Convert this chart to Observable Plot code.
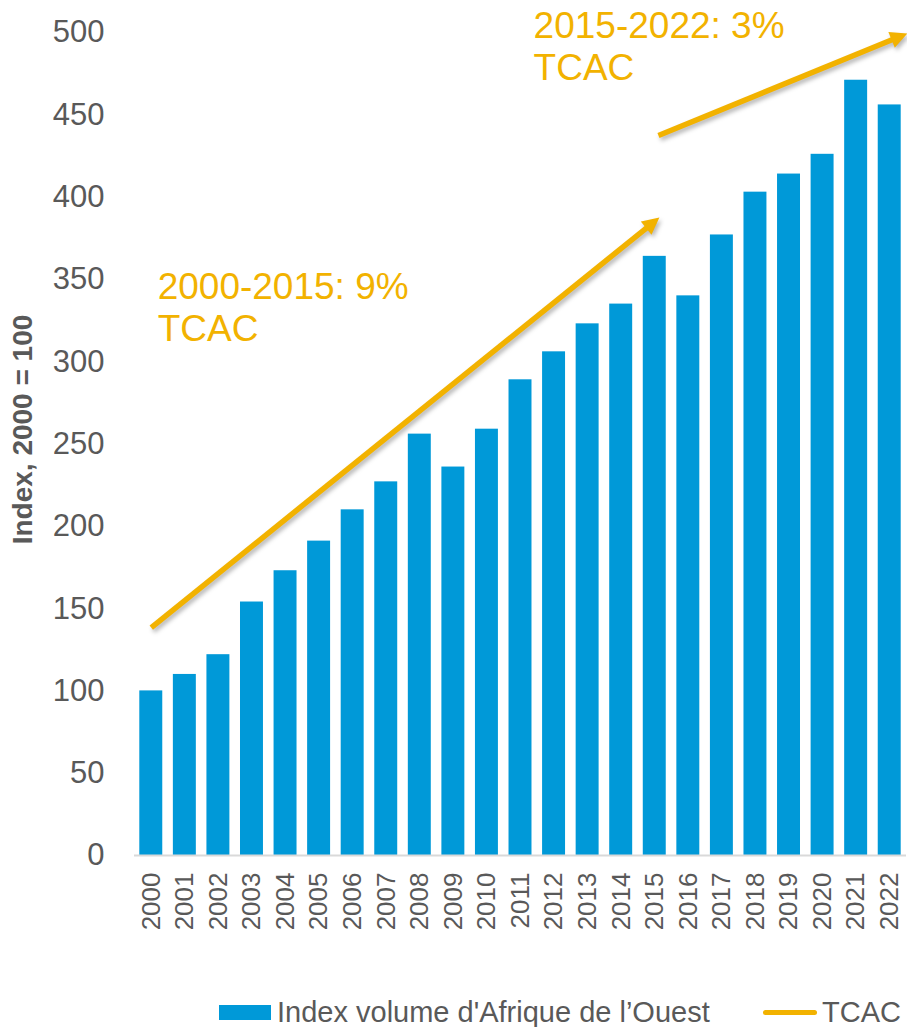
<!DOCTYPE html>
<html>
<head>
<meta charset="utf-8">
<script src="https://cdn.jsdelivr.net/npm/d3@7"></script>
<script src="https://cdn.jsdelivr.net/npm/@observablehq/plot@0.6"></script>
<style>
  html, body { margin: 0; padding: 0; background: #fff; }
  body { width: 907px; height: 1027px; overflow: hidden; font-family: "Liberation Sans", Arial, sans-serif; }
  #legend { position: relative; width: 907px; height: 32px; color: #595959; font-size: 29px; }
  #legend .sw { position: absolute; }
  #legend .lb { position: absolute; top: 1px; line-height: 32px; white-space: nowrap; }
</style>
</head>
<body>
<div id="chart"></div>
<div id="legend">
  <div class="sw" style="left:219px; top:10px; width:52px; height:15px; background:#0099D8;"></div>
  <div class="lb" style="left:277px;">Index volume d'Afrique de l’Ouest</div>
  <div class="sw" style="left:763px; top:15px; width:54px; height:5px; background:#F2B200; border-radius:3px;"></div>
  <div class="lb" style="left:822px;">TCAC</div>
</div>
<script>
// ---- data ----
const years = [2000, 2001, 2002, 2003, 2004, 2005, 2006, 2007, 2008, 2009, 2010, 2011,
               2012, 2013, 2014, 2015, 2016, 2017, 2018, 2019, 2020, 2021, 2022];
const values = [100, 110, 122, 154, 173, 191, 210, 227, 256, 236, 259, 289,
                306, 323, 335, 364, 340, 377, 403, 414, 426, 471, 456];
const yTicks = [0, 50, 100, 150, 200, 250, 300, 350, 400, 450, 500];
const yLabel = "Index, 2000 = 100";
const yLabelPos = {x: 1996.19, y: 258.8};

// CAGR annotations (arrows + labels)
const arrowX1 = [2000.0, 2015.11];
const arrowY1 = [138.5, 437.4];
const arrowX2 = [2015.0, 2022.36];
const arrowY2 = [385.3, 498.0];
const annoText = ["2000-2015: 9%\nTCAC", "2015-2022: 3%\nTCAC"];
const annoX = [2000.19, 2011.39];
const annoY = [356.5, 515];

const BLUE = "#0099D8";
const ORANGE = "#F2B200";
const GREY = "#595959";

const bars = years.map((year, i) => ({year, value: values[i]}));
const arrows = arrowX1.map((x1, i) => ({x1, y1: arrowY1[i], x2: arrowX2[i], y2: arrowY2[i]}));
const annos = annoText.map((text, i) => ({text, x: annoX[i], y: annoY[i]}));

const W = 907, H = 995;
const plot = Plot.plot({
  width: W,
  height: H,
  marginLeft: 134,
  marginRight: 1,
  marginTop: 32,
  marginBottom: H - 855,
  style: {fontFamily: "'Liberation Sans', Arial, sans-serif", color: GREY, background: "white", overflow: "visible"},
  x: {type: "linear", domain: [1999.5, 2022.5], axis: null},
  y: {domain: [0, 500], axis: null},
  marks: [
    Plot.rectY(bars, {x1: d => d.year - 0.5, x2: d => d.year + 0.5, y: "value",
                      fill: BLUE, insetLeft: 5.3, insetRight: 5.3}),
    Plot.ruleY([0], {stroke: "#D9D9D9", strokeWidth: 2}),
    Plot.axisY({ticks: yTicks, tickSize: 0, tickPadding: 30, fontSize: 31, tickFormat: d => String(d)}),
    Plot.axisX({ticks: years, tickFormat: d => String(d), tickRotate: -90, tickSize: 0, tickPadding: 17, fontSize: 26}),
    Plot.text([yLabelPos], {x: "x", y: "y", text: () => yLabel, rotate: -90,
                            fontSize: 28, fontWeight: "bold", fill: GREY}),
    Plot.link(arrows, {x1: "x1", y1: "y1", x2: "x2", y2: "y2", stroke: ORANGE, strokeWidth: 5.5}),
    Plot.text(annos, {x: "x", y: "y", text: "text", textAnchor: "start", lineAnchor: "top",
                      lineHeight: 1.14, fontSize: 37, fill: ORANGE})
  ]
});

// add filled arrowheads and a soft shadow to the arrows
const svg = d3.select(plot);
const defs = svg.insert("defs", ":first-child");
defs.append("marker")
  .attr("id", "ahead")
  .attr("viewBox", "0 0 10 10")
  .attr("refX", 6.5)
  .attr("refY", 5)
  .attr("markerUnits", "userSpaceOnUse")
  .attr("markerWidth", 18)
  .attr("markerHeight", 17)
  .attr("orient", "auto")
  .append("path")
  .attr("d", "M0,0L10,5L0,10Z")
  .attr("fill", ORANGE);
svg.selectAll("g[aria-label=link]")
  .style("filter", "drop-shadow(2px 3px 2px rgba(0,0,0,0.28))")
  .selectAll("path")
  .attr("marker-end", "url(#ahead)")
  .attr("stroke-linecap", "butt");

document.getElementById("chart").appendChild(plot);
</script>
</body>
</html>
